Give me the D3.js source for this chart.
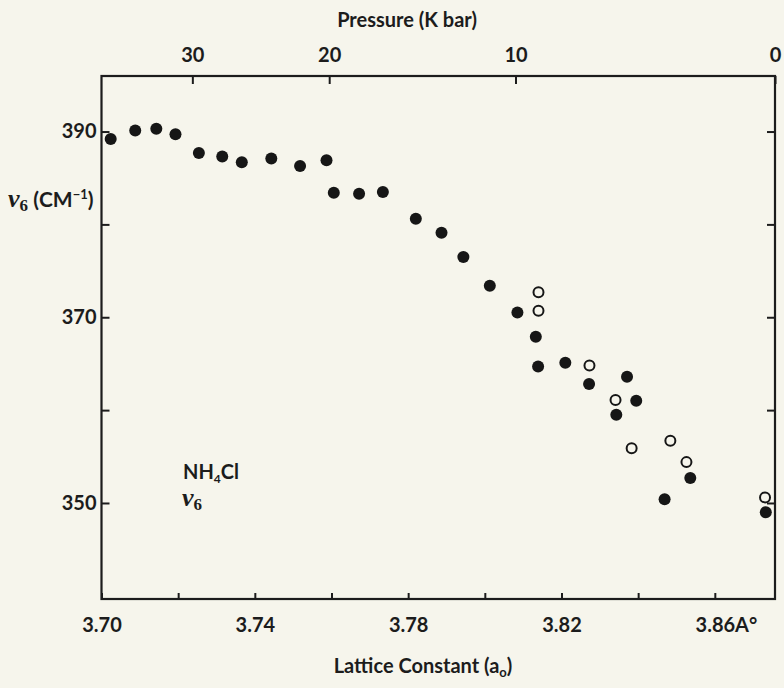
<!DOCTYPE html>
<html>
<head>
<meta charset="utf-8">
<script src="https://cdn.jsdelivr.net/npm/d3@7/dist/d3.min.js"></script>
<style>
  html, body { margin: 0; padding: 0; background: #f6f5ec; }
  svg { display: block; }
  .axis path { display: none; }
  .axis line { stroke: #1c1c1c; stroke-width: 2; }
  .axis text { font-family: Lato, "Open Sans", sans-serif; font-weight: 700; font-size: 20px; fill: #1c1c1c; }
</style>
</head>
<body>
<div id="plot"></div>
<script>
//Data (lattice constant in A, nu6 in cm-1);
const filledA  = [3.7024, 3.7088, 3.7143, 3.7193, 3.7254, 3.7315, 3.7366, 3.7443, 3.7518, 3.7587,
                  3.7606, 3.7672, 3.7734, 3.7820, 3.7887, 3.7944, 3.8013, 3.8085, 3.8133, 3.8139,
                  3.8210, 3.8272, 3.8371, 3.8395, 3.8343, 3.8536, 3.8469, 3.8733];
const filledNu = [389.2, 390.1, 390.3, 389.7, 387.7, 387.3, 386.7, 387.1, 386.3, 386.9,
                  383.4, 383.3, 383.5, 380.6, 379.1, 376.5, 373.4, 370.5, 367.9, 364.7,
                  365.1, 362.8, 363.6, 361.0, 359.5, 352.7, 350.4, 349.0];
const openA  = [3.8140, 3.8140, 3.8273, 3.8341, 3.8383, 3.8484, 3.8526, 3.8731];
const openNu = [372.7, 370.7, 364.8, 361.1, 355.9, 356.7, 354.4, 350.6];

//Axis ticks;
const latticeTicks  = [3.70, 3.72, 3.74, 3.76, 3.78, 3.80, 3.82, 3.84, 3.86];
const latticeLabels = [3.70, 3.74, 3.78, 3.82, 3.86];
const nuTicks  = [350, 360, 370, 380, 390];
const nuLabels = [350, 370, 390];
//Pressure scale on top, placed at the lattice constant it corresponds to;
const pressureLabels = [30, 20, 10, 0];
const pressureA      = [3.7237, 3.7594, 3.8080, 3.8757];

//Set Height and Width Vars;
const w = 784;
const h = 688;
const pLeft = 101.5, pRight = 775, pTop = 76, pBottom = 599;

const svg = d3.select("#plot")
  .append("svg")
    .attr("width", w)
    .attr("height", h);

//Scales;
const xScale = d3.scaleLinear()
  .domain([3.70, 3.8757])
  .range([pLeft, pRight]);

const yScale = d3.scaleLinear()
  .domain([339.66, 395.98])
  .range([pBottom, pTop]);

const ink = "#1c1c1c";

//Axes;
const fmt2 = d3.format(".2f");

const xAxis = d3.axisBottom(xScale)
  .tickValues(latticeTicks)
  .tickSizeInner(-6)
  .tickSizeOuter(0)
  .tickPadding(19)
  .tickFormat(function(d){
    return latticeLabels.some(function(v){ return Math.abs(v - d) < 1e-6; }) ? fmt2(d) : "";
  });

const gx = svg.append("g")
  .attr("class", "axis")
  .attr("transform", "translate(0," + pBottom + ")")
  .call(xAxis);

//Angstrom mark after the last label;
gx.selectAll(".tick text")
  .filter(function(d){ return Math.abs(d - 3.86) < 1e-6; })
  .each(function(){
    const t = d3.select(this);
    const half = this.getComputedTextLength() / 2;
    t.attr("text-anchor", "start").attr("x", -half);
    t.append("tspan").text("A°");
  });

const xTop = d3.axisTop(xScale)
  .tickValues(pressureA)
  .tickSizeInner(-8)
  .tickSizeOuter(0)
  .tickPadding(14)
  .tickFormat(function(d, i){ return pressureLabels[i]; });

svg.append("g")
  .attr("class", "axis")
  .attr("transform", "translate(0," + pTop + ")")
  .call(xTop);

const yAxis = d3.axisLeft(yScale)
  .tickValues(nuTicks)
  .tickSizeInner(-8)
  .tickSizeOuter(0)
  .tickPadding(5)
  .tickFormat(function(d){ return nuLabels.indexOf(d) >= 0 ? d : ""; });

svg.append("g")
  .attr("class", "axis")
  .attr("transform", "translate(" + pLeft + ",0)")
  .call(yAxis);

const yRight = d3.axisRight(yScale)
  .tickValues(nuTicks)
  .tickSizeInner(-8)
  .tickSizeOuter(0)
  .tickFormat("");

svg.append("g")
  .attr("class", "axis")
  .attr("transform", "translate(" + pRight + ",0)")
  .call(yRight);

//Frame;
svg.append("rect")
  .attr("x", pLeft)
  .attr("y", pTop)
  .attr("width", pRight - pLeft)
  .attr("height", pBottom - pTop)
  .attr("fill", "none")
  .attr("stroke", ink)
  .attr("stroke-width", 2.2);

//Filled points;
svg.append("g")
  .selectAll("circle")
  .data(filledA)
  .enter()
  .append("circle")
    .attr("cx", function(d){ return xScale(d); })
    .attr("cy", function(d, i){ return yScale(filledNu[i]); })
    .attr("r", 6)
    .attr("fill", "#161616");

//Open points;
svg.append("g")
  .selectAll("circle")
  .data(openA)
  .enter()
  .append("circle")
    .attr("cx", function(d){ return xScale(d); })
    .attr("cy", function(d, i){ return yScale(openNu[i]); })
    .attr("r", 5)
    .attr("fill", "none")
    .attr("stroke", "#161616")
    .attr("stroke-width", 2);

//Titles;
const sans = "Lato, 'Open Sans', sans-serif";
const serif = "'Liberation Serif', 'DejaVu Serif', serif";

svg.append("text")
  .attr("x", 407)
  .attr("y", 27)
  .attr("text-anchor", "middle")
  .attr("font-family", sans)
  .attr("font-weight", 700)
  .attr("font-size", "20px")
  .attr("fill", ink)
  .text("Pressure (K bar)");

const xt = svg.append("text")
  .attr("x", 423)
  .attr("y", 673)
  .attr("text-anchor", "middle")
  .attr("font-family", sans)
  .attr("font-weight", 700)
  .attr("font-size", "20px")
  .attr("fill", ink);
xt.append("tspan").text("Lattice Constant (a");
xt.append("tspan").attr("font-size", "13px").attr("dy", 4).text("o");
xt.append("tspan").attr("dy", -4).text(")");

//Y title;
const yt = svg.append("text")
  .attr("x", 8)
  .attr("y", 207)
  .attr("font-family", sans)
  .attr("font-weight", 700)
  .attr("font-size", "21px")
  .attr("fill", ink);
yt.append("tspan").attr("font-family", serif).attr("font-style", "italic").attr("font-size", "26px").text("ν");
yt.append("tspan").attr("font-family", serif).attr("font-size", "17px").attr("dy", 4).text("6");
yt.append("tspan").attr("dy", -4).text(" (CM");
yt.append("tspan").attr("font-size", "13px").attr("dy", -8).text("−1");
yt.append("tspan").attr("dy", 8).text(")");

//Compound label;
const nh = svg.append("text")
  .attr("x", 183)
  .attr("y", 479)
  .attr("font-family", sans)
  .attr("font-weight", 700)
  .attr("font-size", "20px")
  .attr("fill", ink);
nh.append("tspan").text("NH");
nh.append("tspan").attr("font-size", "12px").attr("dy", 4).text("4");
nh.append("tspan").attr("dy", -4).text("Cl");

const nu = svg.append("text")
  .attr("x", 182)
  .attr("y", 506)
  .attr("font-family", serif)
  .attr("font-weight", 700)
  .attr("fill", ink);
nu.append("tspan").attr("font-style", "italic").attr("font-size", "26px").text("ν");
nu.append("tspan").attr("font-size", "17px").attr("dy", 4).text("6");
</script>
</body>
</html>
